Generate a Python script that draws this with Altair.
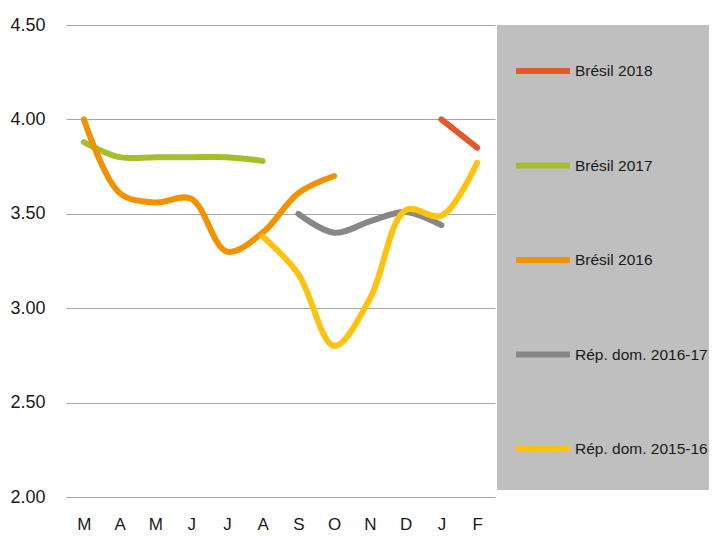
import altair as alt
import pandas as pd

months = ["Mars", "Avril", "Mai", "Juin", "Juillet", "Août", "Septembre",
          "Octobre", "Novembre", "Décembre", "Janvier", "Février"]
series = ["Brésil 2018", "Brésil 2017", "Brésil 2016",
          "Rép. dom. 2016-17", "Rép. dom. 2015-16"]
colors = ["#e05a2b", "#a9bc2a", "#f39200", "#878787", "#ffc20e"]

bresil_2018 = [None] * 10 + [4.00, 3.85]
bresil_2017 = [3.88, 3.80, 3.80, 3.80, 3.80, 3.78] + [None] * 6
bresil_2016 = [4.00, 3.61, 3.56, 3.58, 3.30, 3.40, 3.61, 3.70] + [None] * 4
repdom_2016_17 = [None] * 6 + [3.50, 3.40, 3.46, 3.51, 3.44, None]
repdom_2015_16 = [None] * 5 + [3.38, 3.18, 2.80, 3.05, 3.52, 3.49, 3.77]

y_ticks = [2.0, 2.5, 3.0, 3.5, 4.0, 4.5]

rows = []
for name, vals in zip(series, [bresil_2018, bresil_2017, bresil_2016,
                               repdom_2016_17, repdom_2015_16]):
    for m, v in zip(months, vals):
        if v is not None:
            rows.append({"mois": m, "valeur": v, "serie": name})
df = pd.DataFrame(rows)

FONT = "Liberation Sans, Arial, sans-serif"

chart = alt.Chart(df).mark_line(
    interpolate="catmull-rom", strokeWidth=6, strokeCap="round"
).encode(
    x=alt.X("mois:O", sort=months,
            scale=alt.Scale(type="point", padding=0.5),
            axis=alt.Axis(title=None, labelExpr="substring(datum.label,0,1)",
                          labelAngle=0, domain=False, ticks=False, grid=False,
                          labelPadding=19, labelFontSize=17, labelFont=FONT,
                          labelColor="#1a1a1a")),
    y=alt.Y("valeur:Q",
            scale=alt.Scale(domain=[2, 4.5], nice=False, zero=False),
            axis=alt.Axis(title=None, values=y_ticks, format=".2f",
                          domain=False, ticks=False, grid=True,
                          gridColor="#a6a6a6", gridWidth=1,
                          labelPadding=21, labelFontSize=18, labelFont=FONT,
                          labelColor="#1a1a1a")),
    color=alt.Color("serie:N", sort=series,
                    scale=alt.Scale(domain=series, range=colors),
                    legend=alt.Legend(
                        title=" ", titleOrient="bottom", titleFontSize=1,
                        titlePadding=12,
                        orient="none", legendX=431, legendY=0,
                        fillColor="#bfbfbf", padding=16,
                        symbolType="stroke", symbolSize=2916,
                        symbolStrokeWidth=6,
                        labelOffset=2, labelFontSize=15.5, labelFont=FONT,
                        labelColor="#1a1a1a", rowPadding=52.5,
                        labelLimit=300)),
).properties(
    width=429, height=472,
    autosize=alt.AutoSizeParams(type="none"),
    padding={"left": 58, "top": 17, "right": 214, "bottom": 38},
).configure_view(stroke=None)

chart.save("out.html", embed_options={"renderer": "svg", "actions": False})
